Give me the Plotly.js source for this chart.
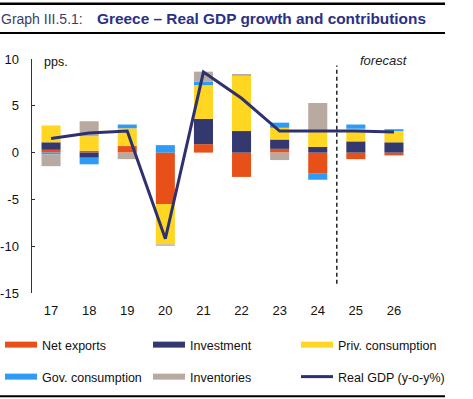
<!DOCTYPE html>
<html>
<head>
<meta charset="utf-8">
<script src="https://cdn.plot.ly/plotly-3.0.1.min.js"></script>
<style>html,body{margin:0;padding:0;background:#fff;}#chart{width:473px;height:399px;}</style>
</head>
<body>
<div id="chart"></div>
<script>
const years = ['17','18','19','20','21','22','23','24','25','26'];
const netExports  = [0.3, 0.2, 0.7, -5.5, 0.9, -2.6, 0.4, -2.2, -0.7, -0.3];
const investment  = [0.8, -0.55, 0.0, 0.0, 2.7, 2.3, 1.0, 0.6, 1.2, 1.1];
const privCons    = [1.8, 1.55, 1.9, -4.3, 3.6, 5.9, 1.25, 1.6, 1.35, 1.2];
const govCons     = [-0.2, -0.7, 0.4, 0.8, 0.4, 0.0, 0.55, -0.7, 0.45, 0.2];
const inventories = [-1.25, 1.6, -0.7, -0.15, 1.05, 0.2, -0.8, 3.1, 0.0, 0.0];
const realGDP     = [1.5, 2.1, 2.3, -9.2, 8.6, 5.8, 2.3, 2.3, 2.3, 2.2];
const yTicks = [-15, -10, -5, 0, 5, 10];
const yTickLabels = ['-15', '-10', '-5', '0', '5', '10'];
const boundaryTicks = [0.5, 1.5, 2.5, 3.5, 4.5, 5.5, 6.5, 7.5, 8.5, 9.5];

const colors = {
  nx: '#E8501A', inv: '#33386E', priv: '#FFD621', gov: '#2E9CF4', invent: '#B8A9A1', gdp: '#2D3170'
};
const FONT = 'Liberation Sans, Arial, sans-serif';

function barTrace(name, vals, color) {
  return {type: 'bar', name: name, x: years, y: vals, marker: {color: color, line: {width: 0}},
          width: 0.5, showlegend: false, hoverinfo: 'skip'};
}
function legendOnly(name, color, legend) {
  return {type: 'scatter', mode: 'lines', name: name, x: [null], y: [null],
          line: {color: color, width: 6}, legend: legend, showlegend: true, hoverinfo: 'skip'};
}

const data = [
  barTrace('Net exports', netExports, colors.nx),
  barTrace('Investment', investment, colors.inv),
  barTrace('Priv. consumption', privCons, colors.priv),
  barTrace('Gov. consumption', govCons, colors.gov),
  barTrace('Inventories', inventories, colors.invent),
  legendOnly('Net exports', colors.nx, 'legend'),
  legendOnly('Investment', colors.inv, 'legend2'),
  legendOnly('Priv. consumption', colors.priv, 'legend3'),
  legendOnly('Gov. consumption', colors.gov, 'legend4'),
  legendOnly('Inventories', colors.invent, 'legend5'),
  {type: 'scatter', mode: 'lines', name: 'Real GDP (y-o-y%)', x: years, y: realGDP,
   line: {color: colors.gdp, width: 3}, legend: 'legend6', hoverinfo: 'skip'}
];

const W = 381, H = 234, L = 32, T = 59;
const px = v => (v - L) / W;
const py = v => (T + H - v) / H;

function leg(xp, yp) {
  return {x: px(xp), xanchor: 'left', y: py(yp), yanchor: 'middle',
          font: {size: 12.5, color: '#111', family: FONT}, bgcolor: 'rgba(0,0,0,0)',
          borderwidth: 0, itemwidth: 32};
}

const layout = {
  width: 473, height: 399,
  margin: {l: 32, r: 60, t: 59, b: 106, pad: 0, autoexpand: false},
  paper_bgcolor: '#fff', plot_bgcolor: '#fff',
  font: {family: FONT, size: 13, color: '#111'},
  barmode: 'relative',
  xaxis: {type: 'category', range: [-0.5, 9.5], showline: false, ticks: '', showgrid: false,
          zeroline: false, tickfont: {size: 13, color: '#111'}, ticklabelstandoff: 8, fixedrange: true,
          automargin: false},
  xaxis2: {overlaying: 'x', anchor: 'free', position: 0.6, side: 'bottom', type: 'linear',
           range: [-0.5, 9.5], tickvals: boundaryTicks, ticks: 'inside', ticklen: 4, tickwidth: 1.5,
           tickcolor: '#555', showline: true, linecolor: '#555', linewidth: 1.5,
           showticklabels: false, showgrid: false, zeroline: false, automargin: false},
  yaxis: {range: [-15, 10], tickvals: yTicks, ticktext: yTickLabels, showline: true, linecolor: '#333',
          linewidth: 1.5, ticks: 'inside', ticklen: 3, tickcolor: '#333', showgrid: false, zeroline: false,
          tickfont: {size: 13, color: '#111'}, ticklabelstandoff: 9, automargin: false},
  showlegend: true,
  legend: leg(0, 345),
  legend2: leg(148, 345),
  legend3: leg(296, 345),
  legend4: leg(0, 377),
  legend5: leg(148, 377),
  legend6: leg(296, 377),
  shapes: [
    {type: 'line', xref: 'paper', yref: 'paper', x0: px(0), x1: px(445), y0: py(3.8), y1: py(3.8),
     line: {color: '#000', width: 2.5}},
    {type: 'line', xref: 'paper', yref: 'paper', x0: px(0), x1: px(445), y0: py(33.1), y1: py(33.1),
     line: {color: '#000', width: 2}},
    {type: 'line', xref: 'paper', yref: 'paper', x0: px(0), x1: px(445), y0: py(396.3), y1: py(396.3),
     line: {color: '#000', width: 2}},
    {type: 'line', xref: 'x', yref: 'y', x0: 7.5, x1: 7.5, y0: -14, y1: 9.3,
     line: {color: '#222', width: 1.5, dash: '4px,3px'}}
  ],
  annotations: [
    {xref: 'paper', yref: 'paper', x: px(-1), y: py(19), xanchor: 'left', yanchor: 'middle',
     text: 'Graph III.5.1:', showarrow: false, font: {size: 14, color: '#3B3D6B', family: FONT}},
    {xref: 'paper', yref: 'paper', x: px(95), y: py(19), xanchor: 'left', yanchor: 'middle',
     text: '<b>Greece – Real GDP growth and contributions</b>', showarrow: false,
     font: {size: 15.4, color: '#2B3087', family: FONT}},
    {xref: 'paper', yref: 'paper', x: px(42), y: py(62), xanchor: 'left', yanchor: 'middle',
     text: 'pps.', showarrow: false, font: {size: 12.5, color: '#111'}},
    {xref: 'paper', yref: 'paper', x: px(358), y: py(61), xanchor: 'left', yanchor: 'middle',
     text: '<i>forecast</i>', showarrow: false, font: {size: 13, color: '#222'}}
  ]
};

Plotly.newPlot('chart', data, layout, {displayModeBar: false, staticPlot: true});
</script>
</body>
</html>
